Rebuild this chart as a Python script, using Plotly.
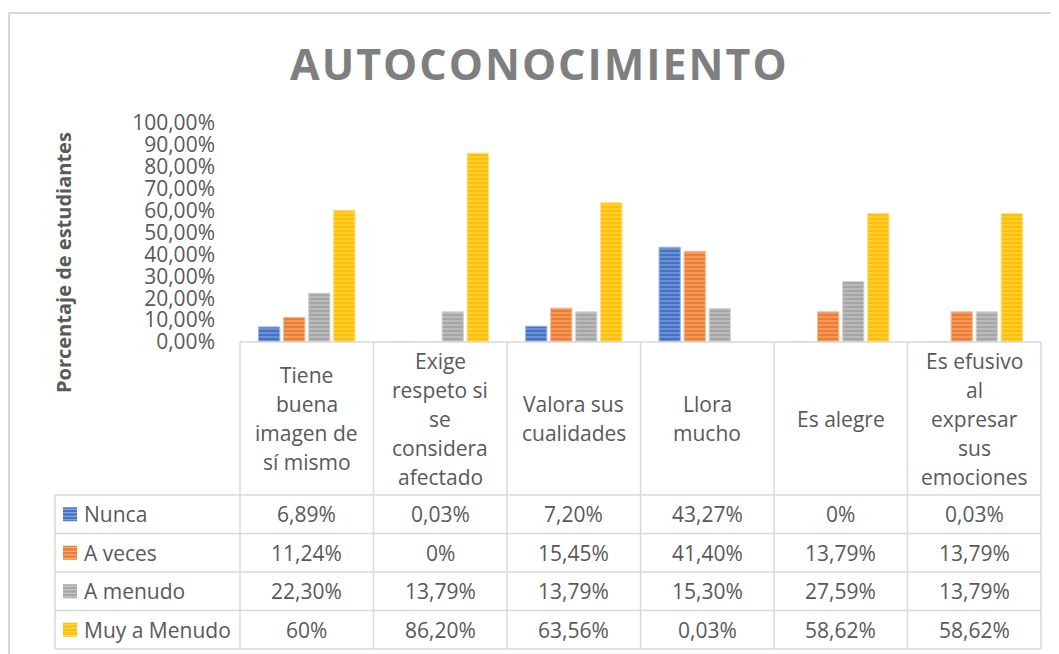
import plotly.graph_objects as go

# ---------------- data ----------------
header_lines = [
    ["Tiene", "buena", "imagen de", "sí mismo"],
    ["Exige", "respeto si", "se", "considera", "afectado"],
    ["Valora sus", "cualidades"],
    ["Llora", "mucho"],
    ["Es alegre"],
    ["Es efusivo", "al", "expresar", "sus", "emociones"],
]
categories = [" ".join(l) for l in header_lines]

series_names = ["Nunca", "A veces", "A menudo", "Muy a Menudo"]
nunca = [6.89, 0.03, 7.20, 43.27, 0, 0.03]
a_veces = [11.24, 0, 15.45, 41.40, 13.79, 13.79]
a_menudo = [22.30, 13.79, 13.79, 15.30, 27.59, 13.79]
muy_a_menudo = [60, 86.20, 63.56, 0.03, 58.62, 58.62]
series_values = [nunca, a_veces, a_menudo, muy_a_menudo]

y_tick_values = [0, 10, 20, 30, 40, 50, 60, 70, 80, 90, 100]

# ---------------- style ----------------
colors = ["#4472C4", "#ED7D31", "#A5A5A5", "#FFC000"]
light = ["#9DB5E2", "#F6B992", "#D3D3D3", "#FFDD75"]
TXT = "#595959"
GRID = "#D9D9D9"
FONT = "Open Sans"
W, H = 1059, 654
OFF = 8  # page body margin


def X(px):
    return (px - OFF) / W


def Y(py):
    return 1 - (py - OFF) / H


def fmt(v):
    if float(v).is_integer():
        return f"{int(v)}%"
    return f"{v:.2f}%".replace(".", ",")


plot_left, plot_right = 240, 1041
y0_px, y100_px = 342, 123

fig = go.Figure()
for name, vals, c, lc in zip(series_names, series_values, colors, light):
    fig.add_trace(go.Bar(
        x=categories, y=[v / 100 for v in vals], name=name,
        marker=dict(color=c, line=dict(color=lc, width=1),
                    pattern=dict(shape="-", fgcolor=lc, bgcolor=c,
                                 size=4, solidity=0.45)),
        showlegend=False, hoverinfo="skip",
    ))

shapes = []
annotations = []

# outer chart border
shapes.append(dict(type="rect", xref="paper", yref="paper",
                   x0=X(9), x1=X(1075), y0=Y(13), y1=Y(680),
                   line=dict(color=GRID, width=2), fillcolor="rgba(0,0,0,0)"))

# table geometry
ncat = len(categories)
cw = (plot_right - plot_left) / ncat
col_edges = [plot_left + i * cw for i in range(ncat + 1)]
header_top, header_bot = y0_px, 495
row_h = 38.5
row_edges = [header_bot + i * row_h for i in range(len(series_names) + 1)]
legend_left = 55

line_style = dict(color=GRID, width=1.5)
shapes.append(dict(type="line", xref="paper", yref="paper", x0=X(plot_left), x1=X(plot_right),
                   y0=Y(header_top), y1=Y(header_top), line=line_style))
for ry in row_edges:
    shapes.append(dict(type="line", xref="paper", yref="paper", x0=X(legend_left), x1=X(plot_right),
                       y0=Y(ry), y1=Y(ry), line=line_style))
for cx in col_edges:
    shapes.append(dict(type="line", xref="paper", yref="paper", x0=X(cx), x1=X(cx),
                       y0=Y(header_top), y1=Y(row_edges[-1]), line=line_style))
shapes.append(dict(type="line", xref="paper", yref="paper", x0=X(legend_left), x1=X(legend_left),
                   y0=Y(row_edges[0]), y1=Y(row_edges[-1]), line=line_style))

# header text
line_gap = 29
hc = (header_top + header_bot) / 2
for i, lines in enumerate(header_lines):
    cx = (col_edges[i] + col_edges[i + 1]) / 2
    n = len(lines)
    for j, t in enumerate(lines):
        yy = hc + (j - (n - 1) / 2) * line_gap
        annotations.append(dict(text=t, x=X(cx), y=Y(yy), xref="paper", yref="paper",
                                showarrow=False, xanchor="center", yanchor="middle",
                                font=dict(family=FONT, size=21, color=TXT)))

# rows
for r, (name, vals, c, lc) in enumerate(zip(series_names, series_values, colors, light)):
    ry = (row_edges[r] + row_edges[r + 1]) / 2
    shapes.append(dict(type="rect", xref="paper", yref="paper", x0=X(63), x1=X(77),
                       y0=Y(ry - 7), y1=Y(ry + 7), line=dict(width=0), fillcolor=c))
    for k in range(4):
        yy = ry - 5 + k * 3.5
        shapes.append(dict(type="line", xref="paper", yref="paper", x0=X(63), x1=X(77),
                           y0=Y(yy), y1=Y(yy), line=dict(color=lc, width=1)))
    annotations.append(dict(text=name, x=X(82), y=Y(ry), xref="paper", yref="paper",
                            showarrow=False, xanchor="left", yanchor="middle",
                            font=dict(family=FONT, size=21, color=TXT)))
    for i, v in enumerate(vals):
        cx = (col_edges[i] + col_edges[i + 1]) / 2
        annotations.append(dict(text=fmt(v), x=X(cx), y=Y(ry), xref="paper", yref="paper",
                                showarrow=False, xanchor="center", yanchor="middle",
                                font=dict(family=FONT, size=21, color=TXT)))

# title
annotations.append(dict(text="<span style='letter-spacing:2px'>AUTOCONOCIMIENTO</span>",
                        x=X(539), y=Y(63), xref="paper", yref="paper",
                        showarrow=False, xanchor="center", yanchor="middle",
                        font=dict(family=FONT, size=43, color="#7F7F7F", weight="bold")))
# y axis title
annotations.append(dict(text="<b>Porcentaje de estudiantes</b>", x=X(63), y=Y(263),
                        xref="paper", yref="paper", showarrow=False, textangle=-90,
                        xanchor="center", yanchor="middle",
                        font=dict(family=FONT, size=20, color=TXT)))

fig.update_layout(
    width=W, height=H,
    margin=dict(l=0, r=0, t=0, b=0, pad=0, autoexpand=False),
    paper_bgcolor="white", plot_bgcolor="white",
    separators=",.",
    barmode="group", bargap=0.25, bargroupgap=0.15,
    shapes=shapes, annotations=annotations,
    xaxis=dict(domain=[X(plot_left), X(plot_right)], showticklabels=False, automargin=False,
               showline=False, showgrid=False, zeroline=False, range=[-0.5, ncat - 0.5],
               fixedrange=True),
    yaxis=dict(domain=[Y(y0_px), Y(y100_px)], range=[0, 1], automargin=False,
               tickvals=[v / 100 for v in y_tick_values], tickformat=".2%",
               showline=False, showgrid=False, zeroline=False, ticks="",
               ticklabelstandoff=24,
               tickfont=dict(family=FONT, size=21, color=TXT), fixedrange=True),
    font=dict(family=FONT, color=TXT),
)

fig.write_html("out.html")
